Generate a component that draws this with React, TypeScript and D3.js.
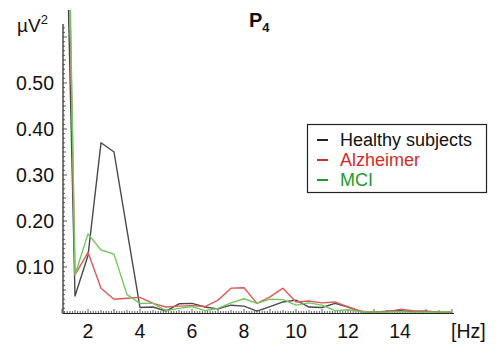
import React from "react";
import * as d3 from "d3";

// Frequency bins (Hz)
const freqs = [
  1, 1.5, 2, 2.5, 3, 3.5, 4, 4.5, 5, 5.5, 6, 6.5, 7, 7.5, 8, 8.5, 9, 9.5, 10,
  10.5, 11, 11.5, 12, 12.5, 13, 13.5, 14, 14.5, 15, 15.5, 16,
];

// Power spectra at electrode P4 (µV²)
const healthy = [
  1.28, 0.037, 0.125, 0.37, 0.35, 0.18, 0.012, 0.013, 0.004, 0.02, 0.021,
  0.013, 0.009, 0.017, 0.015, 0.004, 0.014, 0.024, 0.028, 0.013, 0.012, 0.021,
  0.013, 0.003, 0.002, 0.004, 0.005, 0.003, 0.004, 0.002, 0.001,
];
const alzheimer = [
  1.6, 0.083, 0.132, 0.054, 0.03, 0.032, 0.034, 0.021, 0.013, 0.015, 0.016,
  0.014, 0.028, 0.054, 0.055, 0.021, 0.035, 0.054, 0.024, 0.026, 0.022, 0.024,
  0.013, 0.004, 0.002, 0.003, 0.008, 0.005, 0.004, 0.002, 0.001,
];
const mci = [
  1.7, 0.083, 0.172, 0.137, 0.128, 0.04, 0.021, 0.021, 0.005, 0.01, 0.014,
  0.005, 0.01, 0.022, 0.031, 0.021, 0.03, 0.029, 0.017, 0.022, 0.017, 0.005,
  0.007, 0.003, 0.002, 0.002, 0.003, 0.002, 0.002, 0.002, 0.003,
];

const xTicks = [2, 4, 6, 8, 10, 12, 14];
const yTicks = [0.1, 0.2, 0.3, 0.4, 0.5];

const seriesNames = ["Healthy subjects", "Alzheimer", "MCI"];
const lineColors = ["#4a4a4a", "#de5a5a", "#72c75e"];
const legendTextColors = ["#111111", "#d42a2a", "#1f9a2c"];

const W = 497;
const H = 344;

export default function App() {
  const x = d3.scaleLinear().domain([1, 16]).range([62, 452]);
  const y = d3.scaleLinear().domain([0, 0.1]).range([313, 267]);
  const yTop = 0.628;

  const line = d3
    .line<number>()
    .x((_, i) => x(freqs[i]))
    .y((d) => y(d));

  const series = [healthy, alzheimer, mci];

  const minorX = d3.range(10, 161).map((v) => v / 10);
  const minorY = d3.range(1, 63).map((v) => v / 100);

  const font = "Liberation Sans, Arial, sans-serif";

  return (
    <svg
      width={W}
      height={H}
      style={{ position: "absolute", left: 0, top: 0, background: "#fff" }}
      fontFamily={font}
    >
      <defs>
        <clipPath id="plotClip">
          <rect x={60} y={10} width={400} height={310} />
        </clipPath>
      </defs>

      {/* axes */}
      <line x1={63} x2={63} y1={y(yTop)} y2={y(0) + 1} stroke="#222" strokeWidth={1.2} />
      <line x1={63} x2={454} y1={y(0) + 0.5} y2={y(0) + 0.5} stroke="#222" strokeWidth={1.2} />

      {minorY.map((v, i) => {
        const major = Math.abs(v * 10 - Math.round(v * 10)) < 1e-6;
        const half = Math.abs(v * 20 - Math.round(v * 20)) < 1e-6;
        return (
          <line
            key={"yt" + i}
            x1={63}
            x2={63 + (major ? 4 : half ? 3 : 2)}
            y1={y(v)}
            y2={y(v)}
            stroke="#333"
            strokeWidth={0.8}
          />
        );
      })}
      {minorX.map((v, i) => {
        const major = Math.abs(v - Math.round(v)) < 1e-6;
        const half = Math.abs(v * 2 - Math.round(v * 2)) < 1e-6;
        return (
          <line
            key={"xt" + i}
            x1={x(v)}
            x2={x(v)}
            y1={y(0)}
            y2={y(0) - (major ? 4 : half ? 3 : 2)}
            stroke="#333"
            strokeWidth={0.8}
          />
        );
      })}

      {yTicks.map((t) => (
        <text
          key={"yl" + t}
          x={54}
          y={y(t)}
          dy="0.35em"
          textAnchor="end"
          fontSize={19.5}
          fill="#111"
        >
          {t.toFixed(2)}
        </text>
      ))}
      {xTicks.map((t) => (
        <text
          key={"xl" + t}
          x={x(t)}
          y={338}
          textAnchor="middle"
          fontSize={19.5}
          fill="#111"
        >
          {t}
        </text>
      ))}
      <text x={451} y={338} fontSize={19.5} fill="#111">
        [Hz]
      </text>

      {/* unit label */}
      <text x={17} y={32} fontSize={19} fill="#111">
        µV
        <tspan fontSize={13} dy={-8}>
          2
        </tspan>
      </text>

      {/* title */}
      <text x={249} y={27} fontSize={20} fontWeight="bold" fill="#111">
        P
        <tspan fontSize={13} dy={5}>
          4
        </tspan>
      </text>

      {/* spectra */}
      <g clipPath="url(#plotClip)">
        {series.map((s, i) => (
          <path
            key={"s" + i}
            d={line(s) || ""}
            fill="none"
            stroke={lineColors[i]}
            strokeWidth={1.4}
            strokeLinejoin="round"
          />
        ))}
      </g>

      {/* legend */}
      <rect x={307.5} y={124.5} width={179} height={68} fill="#fff" stroke="#222" strokeWidth={1.2} />
      {seriesNames.map((name, i) => (
        <g key={"lg" + i} transform={`translate(0, ${140 + i * 20})`}>
          <line x1={317} x2={328} y1={0} y2={0} stroke={lineColors[i] === "#4a4a4a" ? "#222" : legendTextColors[i]} strokeWidth={2} />
          <text x={340} y={0} dy="0.35em" fontSize={18} fill={legendTextColors[i]}>
            {name}
          </text>
        </g>
      ))}
    </svg>
  );
}
